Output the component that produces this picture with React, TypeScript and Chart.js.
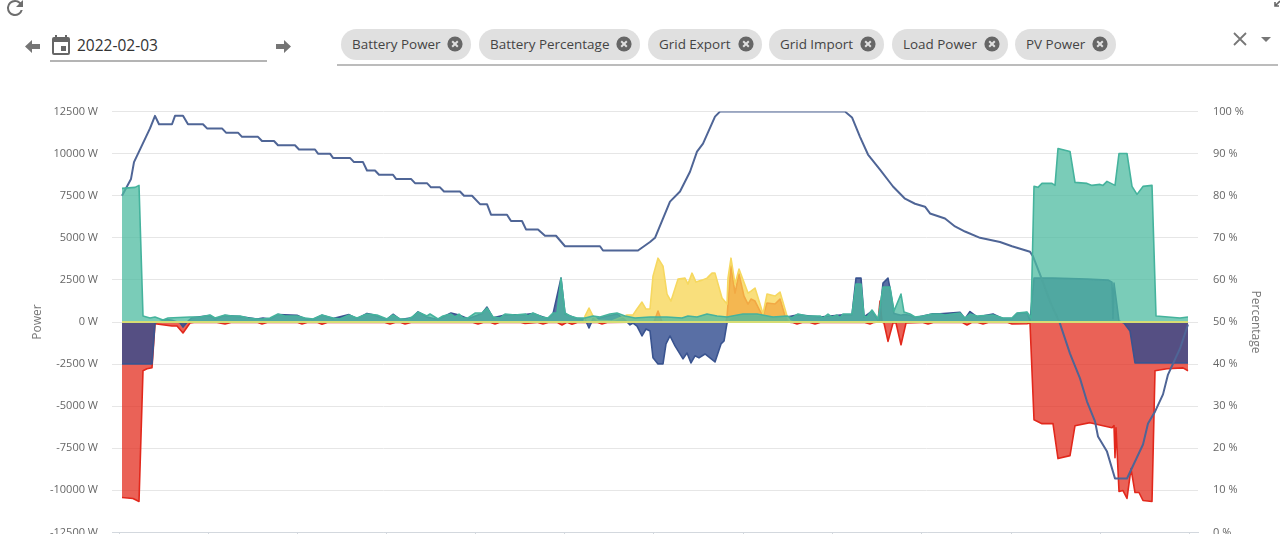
import React, { useEffect, useRef } from "react";
import { Chart, registerables } from "chart.js";

Chart.register(...registerables);

// x values are sample numbers along the day, y values are watts (or percent)
const gridExport: number[][] = [[0, 0], [1066, 0]];

const loadPower: number[][] = [
  [0, 7938], [13, 8000], [17, 8116], [21, 355], [28, 237], [33, 296], [41, 118], [46, 237], [68, 296], [78, 296],
  [88, 415], [93, 237], [103, 415], [110, 355], [118, 355], [126, 237], [135, 178], [141, 178], [148, 237], [156, 474],
  [163, 355], [175, 355], [183, 237], [191, 178], [200, 415], [211, 237], [218, 178], [227, 415], [235, 237], [245, 474],
  [255, 415], [265, 178], [271, 415], [278, 178], [286, 178], [290, 296], [296, 592], [305, 355], [308, 474], [316, 178],
  [321, 355], [329, 474], [333, 296], [337, 474], [341, 237], [346, 237], [353, 533], [360, 533], [365, 829], [371, 296],
  [378, 237], [383, 474], [393, 415], [403, 474], [406, 355], [411, 533], [420, 296], [426, 237], [431, 533], [435, 533],
  [439, 2607], [443, 533], [448, 355], [455, 237], [463, 237], [471, 355], [478, 296], [488, 474], [495, 533], [503, 355],
  [513, 237], [528, 296], [545, 296], [560, 237], [566, 355], [575, 296], [585, 474], [595, 355], [605, 296], [621, 474],
  [635, 474], [651, 296], [665, 355], [670, 237], [676, 474], [685, 355], [698, 355], [701, 237], [706, 474], [710, 296],
  [715, 415], [718, 237], [721, 474], [730, 474], [734, 2251], [739, 2251], [742, 355], [745, 296], [750, 711], [756, 178],
  [761, 2073], [768, 2073], [772, 652], [779, 1659], [782, 592], [788, 474], [793, 296], [801, 355], [810, 474], [818, 474],
  [823, 415], [838, 533], [843, 237], [848, 474], [855, 355], [871, 415], [881, 237], [890, 237], [895, 533], [905, 592],
  [909, 237], [912, 8056], [916, 8000], [920, 8234], [930, 8234], [933, 8116], [936, 10308], [948, 10130], [953, 8294], [965, 8234],
  [970, 8116], [978, 8175], [981, 8116], [985, 8353], [993, 8116], [997, 10012], [1005, 10012], [1010, 8056], [1015, 7582], [1021, 8056],
  [1030, 8116], [1034, 355], [1046, 296], [1058, 237], [1066, 296],
];

const batteryPercentage: number[][] = [
  [0, 80], [9, 84], [12, 88], [28, 96], [33, 99], [37, 97], [50, 97], [53, 99], [61, 99], [66, 97],
  [81, 97], [85, 96], [100, 96], [104, 95], [116, 95], [120, 94], [136, 94], [140, 93], [152, 93], [156, 92],
  [173, 92], [177, 91], [193, 91], [196, 90], [208, 90], [211, 89], [228, 89], [232, 88], [241, 88], [245, 86],
  [253, 86], [257, 85], [271, 85], [274, 84], [289, 84], [293, 83], [305, 83], [309, 82], [318, 82], [322, 81],
  [338, 81], [342, 80], [350, 80], [358, 78], [365, 78], [369, 75.5], [385, 75.5], [389, 74], [400, 74], [404, 72],
  [416, 72], [423, 70.5], [434, 70.5], [443, 68], [478, 68], [481, 67], [516, 67], [528, 69], [533, 70], [548, 78.6],
  [558, 81], [568, 85.7], [575, 90.5], [581, 92.4], [593, 98.8], [598, 100], [723, 100], [730, 98.6], [738, 94], [746, 89.8],
  [758, 86.2], [771, 82.2], [783, 79.3], [793, 78.1], [803, 77.4], [808, 75.8], [823, 74.6], [833, 72.7], [843, 71.5], [858, 70],
  [878, 69], [890, 68], [908, 66.7], [911, 65.6], [918, 61.3], [928, 54.9], [938, 49.6], [948, 42.5], [958, 36.6], [965, 31.1],
  [973, 26.4], [976, 22.8], [985, 19.2], [993, 12.8], [1005, 12.8], [1021, 20.9], [1026, 25.9], [1033, 28.7], [1041, 32.8], [1046, 37.5],
  [1058, 43.7], [1066, 49.4],
];

const pvPower: number[][] = [
  [0, 0], [462, 0], [463, 355], [467, 829], [471, 355], [476, 100], [490, 60], [505, 414], [511, 415], [515, 770],
  [520, 1185], [524, 770], [528, 770], [531, 2725], [536, 3792], [541, 3318], [545, 1659], [549, 1244], [556, 2547], [563, 2607],
  [566, 2251], [570, 2903], [574, 2370], [580, 2488], [585, 2607], [590, 2903], [593, 2903], [600, 1422], [605, 1066], [606, 2607],
  [609, 3792], [613, 2251], [617, 3140], [626, 1718], [629, 1836], [633, 2014], [638, 1066], [641, 474], [645, 1659], [653, 1540],
  [658, 1777], [665, 355], [668, 60], [672, 0], [1066, 0],
];

const batteryPower: number[][] = [
  [0, -2488], [30, -2488], [33, -60], [45, 150], [50, 100], [58, -50], [61, -300], [66, 50], [70, 250], [88, 380],
  [93, 180], [103, 380], [118, 320], [135, 180], [141, 230], [148, 180], [156, 440], [175, 400], [183, 200], [191, 150],
  [200, 400], [211, 200], [227, 440], [235, 200], [245, 510], [250, 440], [265, 150], [271, 460], [278, 150], [290, 250],
  [296, 600], [305, 300], [316, 150], [329, 530], [337, 420], [346, 200], [360, 500], [365, 890], [371, 250], [383, 420],
  [403, 440], [411, 500], [426, 200], [431, 480], [439, 2607], [443, 480], [455, 200], [463, 180], [467, -355], [471, 200],
  [478, 250], [495, 480], [503, 120], [508, -170], [511, -60], [515, -240], [520, -830], [524, -415], [528, -530], [531, -2130],
  [536, -2490], [541, -2490], [544, -1300], [548, -830], [553, -1420], [561, -2190], [565, -1840], [569, -2430], [573, -2010], [577, -2130],
  [583, -1900], [593, -2370], [599, -1300], [602, -1130], [605, -60], [610, 200], [621, 400], [651, 250], [665, 300], [676, 430],
  [698, 300], [721, 430], [730, 430], [734, 2607], [739, 2607], [742, 300], [750, 650], [757, 0], [761, 2310], [766, 2607],
  [768, 2000], [772, 500], [779, 400], [782, 450], [788, 400], [793, 250], [810, 480], [818, 480], [838, 580], [843, 200],
  [848, 620], [855, 300], [871, 480], [881, 200], [890, 200], [895, 500], [905, 560], [908, 60], [912, 2607], [931, 2607],
  [965, 2547], [986, 2490], [990, 2370], [991, 200], [992, 2310], [997, 60], [1002, -60], [1008, -530], [1013, -2430], [1066, -2430],
];

const gridImport: number[][] = [
  [0, -10430], [11, -10490], [17, -10660], [21, -2900], [25, -2780], [30, -2720], [33, -100], [50, -240], [55, -240], [61, -650],
  [68, -60], [72, -30], [95, -30], [103, -120], [110, -20], [135, -20], [140, -120], [146, -20], [175, -20], [180, -120],
  [186, -20], [195, -20], [200, -130], [206, -20], [262, -20], [268, -120], [274, -20], [278, -20], [283, -120], [290, -20],
  [350, -20], [356, -120], [362, -20], [368, -20], [373, -120], [378, -20], [398, -20], [403, -80], [415, -20], [421, -120],
  [427, -20], [435, -20], [440, -180], [445, -20], [450, -130], [456, -20], [475, -20], [480, -120], [486, -20], [532, 0],
  [536, 650], [540, 0], [604, 0], [605, 300], [609, 3318], [613, 1718], [617, 2843], [622, 1540], [626, 1066], [629, 1362],
  [633, 1244], [638, 652], [641, 355], [645, 1126], [653, 1066], [658, 1362], [663, 355], [665, 0], [670, -20], [675, -120],
  [681, -20], [687, -20], [693, -120], [699, -20], [742, -20], [748, -120], [752, -20], [756, 0], [758, 1244], [760, 0],
  [762, -60], [766, -1150], [771, -60], [774, -60], [779, -1350], [784, -60], [800, -20], [806, -120], [812, -20], [840, -20],
  [845, -180], [850, -20], [855, -20], [861, -120], [867, -20], [885, -20], [890, -120], [905, -100], [908, -60], [912, -5805],
  [920, -6040], [931, -6040], [936, -8115], [948, -7940], [953, -6160], [968, -5980], [981, -6160], [990, -6280], [992, -6160], [993, -8057],
  [994, -6280], [997, -10072], [1001, -10012], [1005, -10485], [1009, -8708], [1013, -10130], [1017, -10130], [1021, -10604], [1030, -10663], [1033, -2900],
  [1045, -2780], [1061, -2725], [1066, -2900],
];

const xTickSamples = [-3, 86, 175, 264, 353, 442, 531, 621, 710, 799, 889, 978, 1067];
const chipLabels = ["Battery Power", "Battery Percentage", "Grid Export", "Grid Import", "Load Power", "PV Power"];
const chipLefts = [341, 479, 648, 769, 892, 1015];
const chipRights = [471, 640, 762, 884, 1008, 1116];
const dateLabel = "2022-02-03";

const toPoints = (rows: number[][]) => rows.map(([x, y]) => ({ x, y }));
const FONT = "'Open Sans', sans-serif";

function LineChart() {
  const ref = useRef<HTMLCanvasElement | null>(null);
  useEffect(() => {
    const chart = new Chart(ref.current as HTMLCanvasElement, {
      type: "line",
      data: {
        datasets: [
          { label: "Grid Export", data: toPoints(gridExport), borderColor: "#d6dd74", backgroundColor: "transparent", borderWidth: 2, fill: false, order: 0, yAxisID: "y" },
          { label: "Load Power", data: toPoints(loadPower), borderColor: "#45b39d", backgroundColor: "rgba(78,187,160,0.75)", borderWidth: 1.6, fill: "origin", order: 1, yAxisID: "y" },
          { label: "Battery Percentage", data: toPoints(batteryPercentage), borderColor: "#4f6596", backgroundColor: "transparent", borderWidth: 2, fill: false, order: 2, yAxisID: "y1" },
          { label: "PV Power", data: toPoints(pvPower), borderColor: "#f6d860", backgroundColor: "rgba(247,212,80,0.75)", borderWidth: 1.6, fill: "origin", order: 3, yAxisID: "y" },
          { label: "Battery Power", data: toPoints(batteryPower), borderColor: "#3a5490", backgroundColor: "rgba(47,75,143,0.8)", borderWidth: 1.6, fill: "origin", order: 4, yAxisID: "y" },
          { label: "Grid Import", data: toPoints(gridImport), borderColor: "#e2281c", backgroundColor: "rgba(227,45,31,0.75)", borderWidth: 1.6, fill: "origin", order: 5, yAxisID: "y" },
        ],
      },
      options: {
        animation: false,
        responsive: false,
        devicePixelRatio: 1,
        layout: { padding: { top: 20, left: 0, right: 0, bottom: 0 } },
        elements: { point: { radius: 0 }, line: { tension: 0, borderJoinStyle: "round" } },
        plugins: { legend: { display: false }, tooltip: { enabled: false } },
        scales: {
          x: {
            type: "linear",
            min: -10,
            max: 1076,
            afterFit: (s: any) => { s.height = 2; },
            afterBuildTicks: (s: any) => { s.ticks = xTickSamples.map((value) => ({ value })); },
            ticks: { display: false },
            grid: { drawOnChartArea: false, color: "#d3d8de", tickLength: 3 },
            border: { display: true, color: "#d3d8de" },
          },
          y: {
            position: "left",
            min: -12500,
            max: 12500,
            afterFit: (s: any) => { s.width = 112; },
            ticks: { stepSize: 2500, padding: 14, color: "#666", font: { family: FONT, size: 11 }, callback: (v: any) => `${v} W` },
            grid: { color: "#e6e6e6", drawTicks: false, lineWidth: 1 },
            border: { display: false },
            title: { display: true, text: "Power", color: "#777", font: { family: FONT, size: 12 }, padding: { top: 30, bottom: 0 } },
          },
          y1: {
            position: "right",
            min: 0,
            max: 100,
            afterFit: (s: any) => { s.width = 82; },
            ticks: { stepSize: 10, padding: 15, color: "#666", font: { family: FONT, size: 11 }, callback: (v: any) => `${v} %` },
            grid: { drawOnChartArea: false, drawTicks: false },
            border: { display: false },
            title: { display: true, text: "Percentage", color: "#777", font: { family: FONT, size: 12 }, padding: { top: 17, bottom: 0 } },
          },
        },
      },
    } as any);
    return () => chart.destroy();
  }, []);
  return <canvas ref={ref} width={1280} height={464} style={{ position: "absolute", left: 0, top: 90, width: 1280, height: 464, display: "block" }} />;
}

function Icon({ x, y, w, h, vb, children }: any) {
  return (
    <svg style={{ position: "absolute", left: x, top: y }} width={w} height={h} viewBox={vb}>
      {children}
    </svg>
  );
}

const Chip = ({ label, left, right }: { label: string; left: number; right: number }) => (
  <>
    <div style={{ position: "absolute", left, top: 29, width: right - left, height: 31, borderRadius: 16, background: "#e0e0e0" }} />
    <div style={{ position: "absolute", left: left + 11, top: 29, height: 31, lineHeight: "31px", fontSize: 13.45, color: "#444", whiteSpace: "nowrap" }}>{label}</div>
    <Icon x={right - 24} y={36} w={16} h={16} vb="0 0 16 16">
      <circle cx="8" cy="8" r="7.6" fill="#666" />
      <path d="M5.2 5.2 L10.8 10.8 M10.8 5.2 L5.2 10.8" stroke="#e0e0e0" strokeWidth="2" />
    </Icon>
  </>
);

export default function App() {
  useEffect(() => {
    document.body.style.margin = "0";
    document.body.style.overflow = "hidden";
  }, []);
  return (
    <div style={{ position: "absolute", left: 0, top: 0, width: 1280, height: 534, overflow: "hidden", background: "#fff", fontFamily: FONT }}>
      {/* refresh */}
      <Icon x={3} y={-4} w={24} h={24} vb="0 0 24 24">
        <path fill="#6e6e6e" d="M17.65 6.35A7.95 7.95 0 0 0 12 4a8 8 0 1 0 7.73 10h-2.08A6 6 0 1 1 12 6c1.66 0 3.14.69 4.22 1.78L13 11h7V4l-2.35 2.35z" />
      </Icon>
      {/* back */}
      <Icon x={25} y={39} w={16} h={15} vb="0 0 16 15">
        <path fill="#757575" d="M0 7.5 L7 1 V5 H15 V10 H7 V14 Z" />
      </Icon>
      {/* calendar */}
      <Icon x={49} y={33} w={24} h={24} vb="0 0 24 24">
        <path fill="#666" d="M19 4h-1V2h-2v2H8V2H6v2H5a2 2 0 0 0-2 2v14a2 2 0 0 0 2 2h14a2 2 0 0 0 2-2V6a2 2 0 0 0-2-2zm0 16H5V9h14v11zM12 13h5v5h-5z" />
      </Icon>
      <div style={{ position: "absolute", left: 77, top: 33, lineHeight: "24px", fontSize: 15.5, color: "#333" }}>{dateLabel}</div>
      <div style={{ position: "absolute", left: 50, top: 60, width: 217, height: 2, background: "#b4b4b4" }} />
      {/* forward */}
      <Icon x={275} y={39} w={16} h={15} vb="0 0 16 15">
        <path fill="#757575" d="M16 7.5 L9 1 V5 H1 V10 H9 V14 Z" />
      </Icon>
      {chipLabels.map((label, i) => (
        <Chip key={label} label={label} left={chipLefts[i]} right={chipRights[i]} />
      ))}
      <div style={{ position: "absolute", left: 337, top: 64, width: 941, height: 2, background: "#bcbcbc" }} />
      {/* clear */}
      <Icon x={1232} y={31} w={16} h={16} vb="0 0 16 16">
        <path d="M2 2 L14 14 M14 2 L2 14" stroke="#777" strokeWidth="1.8" fill="none" />
      </Icon>
      {/* dropdown */}
      <Icon x={1261} y={37} w={10} h={5} vb="0 0 10 5">
        <path fill="#777" d="M0 0 H10 L5 5 Z" />
      </Icon>
      {/* window corner icon */}
      <Icon x={1274} y={-2} w={8} h={10} vb="0 0 8 10">
        <path d="M1 8 L6 3 M1 4 V8 H5" stroke="#666" strokeWidth="1.6" fill="none" />
      </Icon>
      <LineChart />
    </div>
  );
}
